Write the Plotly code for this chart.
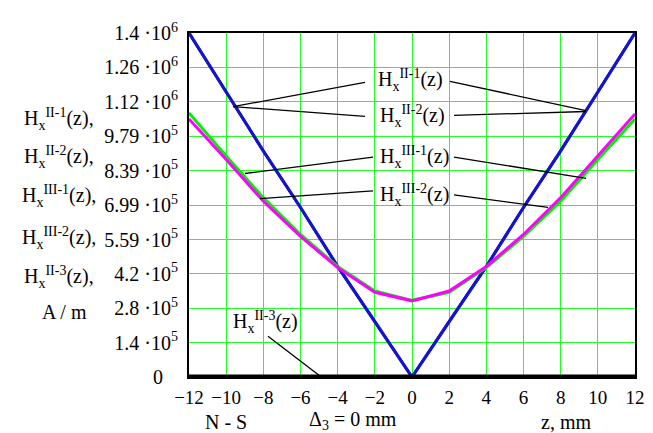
import plotly.graph_objects as go

# ---- data ----
z = [-12, -10, -8, -6, -4, -2, 0, 2, 4, 6, 8, 10, 12]
H_II1 = [1.4e6, 1.16e6, 9.2e5, 6.9e5, 4.5e5, 2.25e5, 0, 2.25e5, 4.5e5, 6.9e5, 9.2e5, 1.16e6, 1.4e6]
H_II2 = [1.4e6, 1.16e6, 9.2e5, 6.9e5, 4.5e5, 2.25e5, 0, 2.25e5, 4.5e5, 6.9e5, 9.2e5, 1.16e6, 1.4e6]
H_III1 = [1.075e6, 9.0e5, 7.3e5, 5.8e5, 4.5e5, 3.5e5, 3.12e5, 3.45e5, 4.45e5, 5.72e5, 7.15e5, 8.85e5, 1.05e6]
H_III2 = [1.05e6, 8.85e5, 7.15e5, 5.72e5, 4.45e5, 3.45e5, 3.1e5, 3.5e5, 4.5e5, 5.8e5, 7.3e5, 9.0e5, 1.07e6]
H_II3 = [3e3, 3e3, 3e3, 3e3, 3e3, 2e3, 0, 2e3, 3e3, 3e3, 3e3, 3e3, 3e3]

y_tickvals = [0, 1.4e5, 2.8e5, 4.2e5, 5.59e5, 6.99e5, 8.39e5, 9.79e5, 1.12e6, 1.26e6, 1.4e6]
y_ticktext = ["0\u00a0\u00a0\u00a0", "1.4 ·10<sup>5</sup>", "2.8 ·10<sup>5</sup>", "4.2 ·10<sup>5</sup>",
              "5.59 ·10<sup>5</sup>", "6.99 ·10<sup>5</sup>", "8.39 ·10<sup>5</sup>",
              "9.79 ·10<sup>5</sup>", "1.12 ·10<sup>6</sup>", "1.26 ·10<sup>6</sup>",
              "1.4 ·10<sup>6</sup>"]
x_tickvals = [-12, -10, -8, -6, -4, -2, 0, 2, 4, 6, 8, 10, 12]
x_ticktext = ["\u221212", "\u221210", "\u22128", "\u22126", "\u22124", "\u22122",
              "0", "2", "4", "6", "8", "10", "12"]

FONT = "Liberation Serif"
W, H = 653, 433
L, R, T, B = 181, 627, 14, 369


def px(x, y):
    return (x - L) / (R - L), (B - y) / (B - T)


fig = go.Figure()
fig.add_trace(go.Scatter(x=z, y=H_II1, mode="lines", line=dict(color="#1414cc", width=3)))
fig.add_trace(go.Scatter(x=z, y=H_II2, mode="lines", line=dict(color="#1414cc", width=3)))
fig.add_trace(go.Scatter(x=z, y=H_III1, mode="lines", line=dict(color="#00f000", width=3)))
fig.add_trace(go.Scatter(x=z, y=H_III2, mode="lines", line=dict(color="#ff00ff", width=3)))
fig.add_trace(go.Scatter(x=z, y=H_II3, mode="lines", line=dict(color="black", width=3.5)))

# leader lines (pixel coords)
leaders = [
    ((225, 90), (357, 65)), ((225, 90), (357, 100)),
    ((442, 64), (578, 94)), ((446, 99), (578, 95)),
    ((237, 159), (365, 142)), ((446, 142), (578, 164)),
    ((252, 185), (365, 177)), ((446, 181), (540, 194)),
    ((260, 327), (312, 368)),
]
shapes = []
for (x0, y0), (x1, y1) in leaders:
    a0, b0 = px(x0, y0)
    a1, b1 = px(x1, y1)
    shapes.append(dict(type="line", xref="paper", yref="paper", x0=a0, y0=b0, x1=a1, y1=b1,
                       line=dict(color="black", width=1.3)))

ann = []
def add_text(text, x, y, size=20, anchor="center", fam=FONT):
    a, b = px(x, y)
    ann.append(dict(text=text, x=a, y=b, xref="paper", yref="paper", showarrow=False,
                    xanchor=anchor, yanchor="middle", font=dict(family=fam, size=size, color="black")))

add_text("H<sub>x</sub><sup>II-1</sup>(z)", 402, 63)
add_text("H<sub>x</sub><sup>II-2</sup>(z)", 404, 100)
add_text("H<sub>x</sub><sup>III-1</sup>(z)", 406, 142)
add_text("H<sub>x</sub><sup>III-2</sup>(z)", 406, 181)
add_text("H<sub>x</sub><sup>II-3</sup>(z)", 257, 312)

# left axis title lines
add_text("H<sub>x</sub><sup>II-1</sup>(z),", 51, 103)
add_text("H<sub>x</sub><sup>II-2</sup>(z),", 51, 142)
add_text("H<sub>x</sub><sup>III-1</sup>(z),", 51, 182)
add_text("H<sub>x</sub><sup>III-2</sup>(z),", 51, 226)
add_text("H<sub>x</sub><sup>II-3</sup>(z),", 51, 266)
add_text("A / m", 56, 302)

# bottom texts
add_text("N - S", 218, 415)
add_text("\u0394<sub>3</sub> = 0 mm", 345, 414)
add_text("z, mm", 558, 415)

fig.update_layout(
    width=W, height=H,
    margin=dict(l=L, r=W - R, t=T, b=H - B),
    paper_bgcolor="white", plot_bgcolor="white",
    showlegend=False,
    shapes=shapes, annotations=ann,
)
fig.update_xaxes(range=[-12, 12], tickvals=x_tickvals, ticktext=x_ticktext,
                 showgrid=True, gridcolor="#22ff22", gridwidth=1, zeroline=False,
                 showline=True, linecolor="black", linewidth=2, mirror=True,
                 ticks="", ticklabelstandoff=2,
                 tickfont=dict(family=FONT, size=19, color="black"))
fig.update_yaxes(range=[0, 1.4e6], tickvals=y_tickvals, ticktext=y_ticktext,
                 showgrid=True, gridcolor="#22ff22", gridwidth=1, zeroline=False,
                 showline=True, linecolor="black", linewidth=2, mirror=True,
                 ticks="", ticklabelstandoff=5,
                 tickfont=dict(family=FONT, size=20, color="black"))

fig.write_html("out.html")
